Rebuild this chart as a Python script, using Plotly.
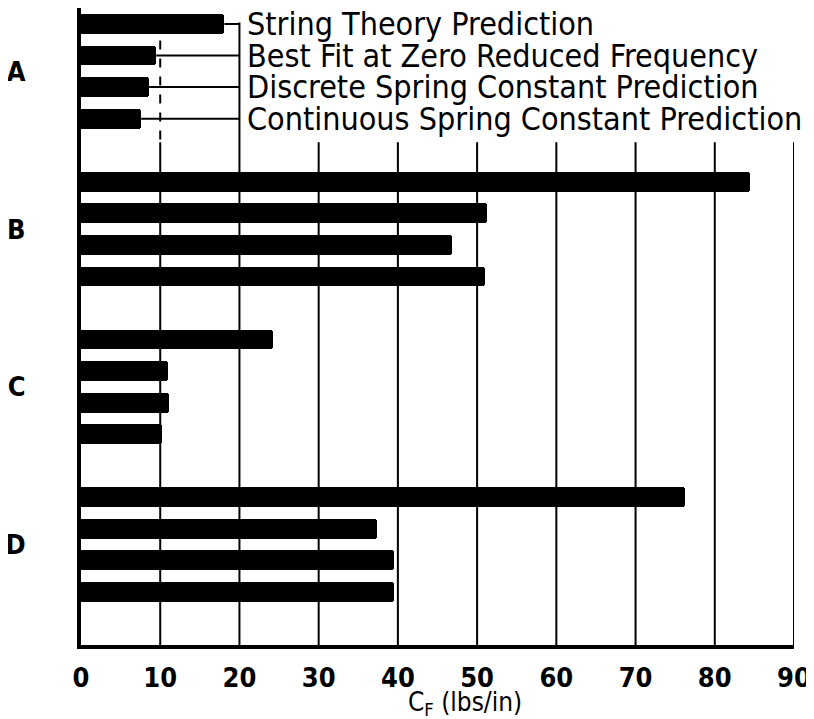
import plotly.graph_objects as go

# ---- data ----
groups = ["A", "B", "C", "D"]
series_names = [
    "String Theory Prediction",
    "Best Fit at Zero Reduced Frequency",
    "Discrete Spring Constant Prediction",
    "Continuous Spring Constant Prediction",
]
string_theory = [18.1, 84.4, 24.2, 76.3]
best_fit = [9.5, 51.3, 11.0, 37.3]
discrete = [8.6, 46.8, 11.1, 39.5]
continuous = [7.6, 51.0, 10.2, 39.5]
x_ticks = [0, 10, 20, 30, 40, 50, 60, 70, 80, 90]

series_values = [string_theory, best_fit, discrete, continuous]

SLOTS_PER_GROUP = 5  # 4 bars + 1 gap
y_bottom = 19.68
y_top = -0.507

fig = go.Figure()
for s, (name, vals) in enumerate(zip(series_names, series_values)):
    ys = [g * SLOTS_PER_GROUP + s for g in range(len(groups))]
    fig.add_trace(go.Bar(
        x=vals, y=ys, orientation="h", name=name, width=0.63,
        marker=dict(color="black", line=dict(width=0), cornerradius=3),
        showlegend=False,
    ))

shapes = []
grid_top_main = 3.75
for v in x_ticks[1:]:
    if v == 20:
        shapes.append(dict(type="line", xref="x", yref="y", x0=v, x1=v, y0=-0.05, y1=y_bottom,
                           line=dict(color="black", width=2), layer="below"))
    elif v == 10:
        shapes.append(dict(type="line", xref="x", yref="y", x0=v, x1=v, y0=-0.05, y1=grid_top_main,
                           line=dict(color="black", width=2, dash="dash"), layer="below"))
        shapes.append(dict(type="line", xref="x", yref="y", x0=v, x1=v, y0=grid_top_main, y1=y_bottom,
                           line=dict(color="black", width=2), layer="below"))
    else:
        shapes.append(dict(type="line", xref="x", yref="y", x0=v, x1=v, y0=grid_top_main, y1=y_bottom,
                           line=dict(color="black", width=2), layer="below"))

# leader lines from group A bars to the label bracket at x=20
for s, vals in enumerate(series_values):
    shapes.append(dict(type="line", xref="x", yref="y", x0=vals[0], x1=20, y0=s, y1=s,
                       line=dict(color="black", width=2), layer="below"))

annotations = []
for s, name in enumerate(series_names):
    annotations.append(dict(
        x=20, y=s, xref="x", yref="y", text=name, showarrow=False,
        xanchor="left", yanchor="middle", xshift=6,
        font=dict(family="DejaVu Sans Condensed", size=32, color="black"),
    ))

# axis title
annotations.append(dict(
    x=48.5, y=0, xref="x", yref="paper", text="C<sub>F</sub> (lbs/in)", showarrow=False,
    xanchor="center", yanchor="middle", yshift=-58,
    font=dict(family="DejaVu Sans Condensed", size=26, color="black"),
))

fig.update_layout(
    width=814, height=719,
    margin=dict(l=73, r=28, t=0, b=82, pad=0),
    paper_bgcolor="white", plot_bgcolor="white",
    bargap=0,
    shapes=shapes, annotations=annotations,
    xaxis=dict(
        range=[0, 90], tickvals=x_ticks, ticktext=[str(t) for t in x_ticks],
        showgrid=False, zeroline=False, showline=True, linecolor="black", linewidth=4,
        ticks="", ticklabelstandoff=6, automargin=False,
        tickfont=dict(family="DejaVu Sans Condensed", size=27, color="black", weight="bold"),
    ),
    yaxis=dict(
        range=[y_bottom, y_top],
        tickvals=[g * SLOTS_PER_GROUP + 1.5 for g in range(len(groups))], ticktext=groups,
        showgrid=False, zeroline=False, showline=True, linecolor="black", linewidth=4,
        ticks="", ticklabelstandoff=46, automargin=False,
        tickfont=dict(family="DejaVu Sans Condensed", size=27, color="black", weight="bold"),
    ),
)

fig.write_html("out.html")
